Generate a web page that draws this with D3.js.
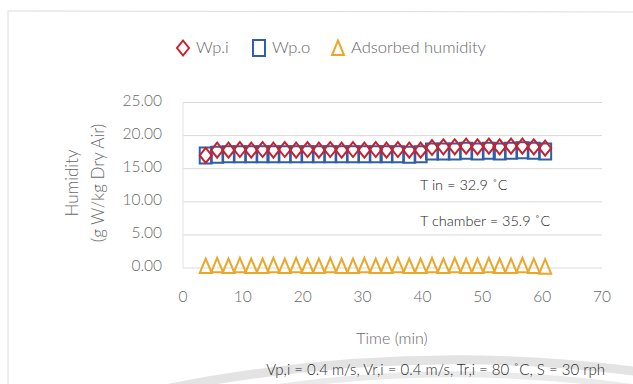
<!DOCTYPE html>
<html>
<head>
<meta charset="utf-8">
<script src="https://cdn.jsdelivr.net/npm/d3@7"></script>
<style>
  body { margin:0; background:#fff; }
  text { font-family: Lato, "Open Sans", sans-serif; }
</style>
</head>
<body>
<div id="chart"></div>
<script>
// time in minutes
var times = [3.8, 5.7, 7.6, 9.5, 11.4, 13.3, 15.1, 17.0, 18.9, 20.8, 22.7, 24.6, 26.5, 28.4, 30.3, 32.2,
             34.0, 35.9, 37.8, 39.7, 41.6, 43.5, 45.4, 47.3, 49.2, 51.1, 52.9, 54.8, 56.7, 58.6, 60.5];
var wpi = [17.0, 17.8, 17.8, 17.9, 17.8, 17.9, 17.8, 17.9, 17.8, 17.9, 17.8, 17.9, 17.8, 17.9, 17.8, 17.9,
           17.8, 17.9, 17.8, 17.8, 18.2, 18.3, 18.3, 18.4, 18.3, 18.4, 18.3, 18.4, 18.4, 18.3, 18.1];
var wpo = [17.0, 17.1, 17.2, 17.2, 17.2, 17.2, 17.2, 17.2, 17.2, 17.2, 17.2, 17.2, 17.2, 17.2, 17.2, 17.2,
           17.2, 17.2, 17.1, 17.2, 17.6, 17.6, 17.6, 17.7, 17.6, 17.7, 17.6, 17.7, 17.8, 17.7, 17.6];
var adsorbed = [0.3, 0.4, 0.3, 0.4, 0.3, 0.3, 0.4, 0.3, 0.4, 0.3, 0.3, 0.4, 0.3, 0.3, 0.4, 0.3,
                0.3, 0.4, 0.3, 0.3, 0.4, 0.3, 0.4, 0.3, 0.3, 0.4, 0.3, 0.3, 0.4, 0.3, 0.2];
var yTicks = [0, 5, 10, 15, 20, 25];
var xTicks = [0, 10, 20, 30, 40, 50, 60, 70];
var legendNames = ["Wp.i", "Wp.o", "Adsorbed humidity"];
var notes = ["T in = 32.9 \u02daC", "T chamber = 35.9 \u02daC"];

var W = 633, H = 384;
var grey = "#676767";
var svg = d3.select("#chart").append("svg").attr("width", W).attr("height", H);

// scanned page frame
svg.append("path")
    .attr("d", "M8,384 L8,11 L633,12")
    .style("fill", "none").style("stroke", "#dcdcdc").style("stroke-width", 1);

// faint watermark arcs at the bottom
svg.append("path")
    .attr("d", "M150,392 Q400,340 640,372")
    .style("fill", "none").style("stroke", "#e3e3e3").style("stroke-width", 9);
svg.append("path")
    .attr("d", "M215,398 Q420,356 640,388")
    .style("fill", "none").style("stroke", "#eaeaea").style("stroke-width", 6);

var x = d3.scaleLinear().domain([0, 70]).range([183, 602]);
var y = d3.scaleLinear().domain([0, 25]).range([268, 102.5]);

// grid
svg.append("g").selectAll("line").data(yTicks).enter().append("line")
    .attr("x1", 183).attr("x2", 602)
    .attr("y1", function(d){return y(d);}).attr("y2", function(d){return y(d);})
    .style("stroke", "#d9d9d9").style("stroke-width", 1);
svg.append("line").attr("x1", 183).attr("x2", 183).attr("y1", y(25)).attr("y2", y(0))
    .style("stroke", "#e3e3e3");

// y tick labels
svg.append("g").selectAll("text").data(yTicks).enter().append("text")
    .attr("x", 162).attr("y", function(d){return y(d) - 2;})
    .attr("dy", "0.35em").style("text-anchor", "end")
    .style("font-size", "15.5px").style("font-weight", 300).style("fill", grey)
    .text(d3.format(".2f"));

// x tick labels
svg.append("g").selectAll("text").data(xTicks).enter().append("text")
    .attr("x", function(d){return x(d);}).attr("y", 302)
    .style("text-anchor", "middle")
    .style("font-size", "15.5px").style("font-weight", 300).style("fill", grey)
    .text(function(d){return d;});

// axis titles
svg.append("text").attr("transform", "translate(78,183) rotate(-90)")
    .style("text-anchor", "middle").style("font-size", "17px").style("font-weight", 300).style("fill", grey)
    .text("Humidity");
svg.append("text").attr("transform", "translate(104,183) rotate(-90)")
    .style("text-anchor", "middle").style("font-size", "17px").style("font-weight", 300).style("fill", grey)
    .text("(g W/kg Dry Air)");
svg.append("text").attr("x", 392).attr("y", 344)
    .style("text-anchor", "middle").style("font-size", "16px").style("font-weight", 300).style("fill", grey)
    .text("Time (min)");
svg.append("text").attr("x", 605).attr("y", 375)
    .style("text-anchor", "end").style("font-size", "15px").style("font-weight", 300).style("fill", "#2a2a2a")
    .text("Vp,i = 0.4 m/s, Vr,i = 0.4 m/s, Tr,i = 80 \u02daC, S = 30 rph");

// notes
svg.append("g").selectAll("text").data(notes).enter().append("text")
    .attr("x", 420).attr("y", function(d, i){return 190 + i * 36;})
    .style("font-size", "14.5px").style("font-weight", 300).style("fill", "#222")
    .text(function(d){return d;});

// marker shapes
var diamond = function(cx, cy){
    return "M" + cx + "," + (cy - 7.5) + "L" + (cx + 6) + "," + cy + "L" + cx + "," + (cy + 7.5) + "L" + (cx - 6) + "," + cy + "Z";
};
var square = function(cx, cy){
    return "M" + (cx - 6) + "," + (cy - 8) + "h12v16h-12Z";
};
var triangle = function(cx, cy){
    return "M" + cx + "," + (cy - 7.5) + "L" + (cx + 6) + "," + (cy + 7) + "L" + (cx - 6) + "," + (cy + 7) + "Z";
};

var drawSeries = function(vals, shape, color){
    svg.append("g").selectAll("path").data(vals).enter().append("path")
        .attr("d", function(d, i){return shape(x(times[i]), y(d));})
        .style("fill", "none").style("stroke", color).style("stroke-width", 2);
};
drawSeries(wpo, square, "#2e5fa8");
drawSeries(wpi, diamond, "#c8202e");
drawSeries(adsorbed, triangle, "#eaa72a");

// legend
var legend = [
    {name: legendNames[0], shape: diamond, color: "#c8202e", x: 183},
    {name: legendNames[1], shape: square, color: "#2e5fa8", x: 259},
    {name: legendNames[2], shape: triangle, color: "#eaa72a", x: 338}
];
var lg = svg.append("g");
legend.forEach(function(l){
    lg.append("path").attr("d", l.shape(l.x, 48))
        .style("fill", "none").style("stroke", l.color).style("stroke-width", 2);
    lg.append("text").attr("x", l.x + 13).attr("y", 53)
        .style("font-size", "16.5px").style("font-weight", 300).style("fill", grey).text(l.name);
});
</script>
</body>
</html>
